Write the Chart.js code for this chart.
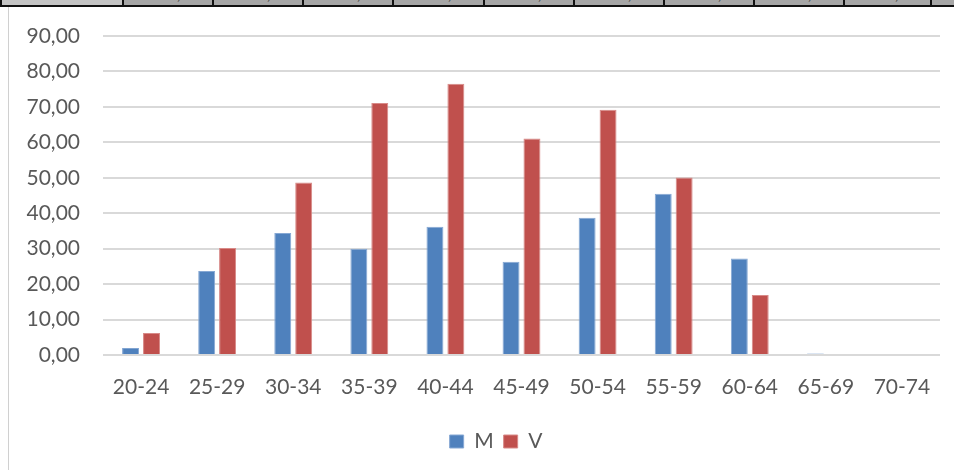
<!DOCTYPE html>
<html>
<head>
<meta charset="utf-8">
<script src="https://cdn.jsdelivr.net/npm/chart.js@4"></script>
<style>
    html, body { margin: 0; padding: 0; background: #ffffff; }
    body { width: 954px; height: 470px; position: relative; overflow: hidden; font-family: Lato, sans-serif; }
    #strip { position: absolute; left: 0; top: 0; width: 954px; height: 5px; background: #a6a6a6; border-bottom: 2px solid #111111; overflow: hidden; }
    #strip .first { position: absolute; left: 0; top: 0; width: 122px; height: 5px; background: #c4c4c4; }
    #strip .sep { position: absolute; top: 0; width: 2px; height: 5px; background: #111111; }
    #strip .cm { position: absolute; top: -14px; font-size: 14px; color: #222222; }
    #edge { position: absolute; left: 0; top: 0; width: 2px; height: 7px; background: #111111; }
    #frame { position: absolute; left: 8px; top: 7px; width: 946px; height: 463px; border-left: 1px solid #d0d0d0; }
    #chart { position: absolute; left: 0; top: 0; }
</style>
</head>
<body>
<div id="strip"><div class="first"></div></div>
<div id="edge"></div>
<div id="frame"></div>
<canvas id="chart" width="954" height="470"></canvas>
<script>
    /* Age groups and values per group */
    const categories = ['20-24', '25-29', '30-34', '35-39', '40-44', '45-49', '50-54', '55-59', '60-64', '65-69', '70-74'];
    const mValues = [2.0, 23.7, 34.4, 30.0, 36.2, 26.3, 38.7, 45.5, 27.2, 0.45, 0];
    const vValues = [6.2, 30.2, 48.7, 71.1, 76.5, 61.1, 69.2, 50.1, 16.9, 0, 0];
    const seriesNames = ['M', 'V'];
    const yTicks = [0, 10, 20, 30, 40, 50, 60, 70, 80, 90];

    /* Spreadsheet cell borders peeking in at the top */
    const strip = document.getElementById('strip');
    [122, 212, 302, 392, 483, 573, 663, 753, 843, 930].forEach((x) => {
        const sep = document.createElement('div');
        sep.className = 'sep';
        sep.style.left = x + 'px';
        strip.appendChild(sep);
        const cm = document.createElement('div');
        cm.className = 'cm';
        cm.style.left = (x - 35) + 'px';
        cm.textContent = ',';
        if (x > 122) strip.appendChild(cm);
    });

    const textColor = '#595959';
    const gridColor = '#d9d9d9';

    // legend sits a little right of the canvas centre in the original
    const legendShift = {
        id: 'legendShift',
        afterLayout(chart) {
            chart.legend.left += 26;
            chart.legend.right += 26;
        },
    };

    new Chart(document.getElementById('chart'), {
        type: 'bar',
        data: {
            labels: categories,
            datasets: [
                {
                    label: seriesNames[0],
                    data: mValues,
                    backgroundColor: '#4f81bd',
                    borderColor: '#86a8d4',
                    borderWidth: 1,
                },
                {
                    label: seriesNames[1],
                    data: vValues,
                    backgroundColor: '#c0504d',
                    borderColor: '#d88a88',
                    borderWidth: 1,
                },
            ],
        },
        options: {
            responsive: false,
            animation: false,
            datasets: {
                bar: {
                    categoryPercentage: 0.55,
                    barPercentage: 0.81,
                },
            },
            layout: {
                padding: { left: 0, right: 14, top: 36, bottom: 8 },
            },
            scales: {
                x: {
                    border: { display: false },
                    grid: { display: false },
                    ticks: {
                        color: textColor,
                        padding: 12,
                        font: { family: 'Lato', size: 21 },
                    },
                    afterFit: (scale) => { scale.height = 66; },
                },
                y: {
                    min: 0,
                    max: 90,
                    border: { display: false },
                    afterBuildTicks: (scale) => { scale.ticks = yTicks.map((v) => ({ value: v })); },
                    grid: {
                        color: gridColor,
                        lineWidth: 2,
                        drawTicks: false,
                    },
                    ticks: {
                        color: textColor,
                        padding: 23,
                        font: { family: 'Lato', size: 21 },
                        callback: (v) => v.toFixed(2).replace('.', ','),
                    },
                    afterFit: (scale) => { scale.width = 103; },
                },
            },
            plugins: {
                tooltip: { enabled: false },
                legend: {
                    position: 'bottom',
                    labels: {
                        boxWidth: 14,
                        boxHeight: 13,
                        padding: 10,
                        color: textColor,
                        font: { family: 'Lato', size: 21 },
                    },
                },
            },
        },
        plugins: [legendShift],
    });
</script>
</body>
</html>
